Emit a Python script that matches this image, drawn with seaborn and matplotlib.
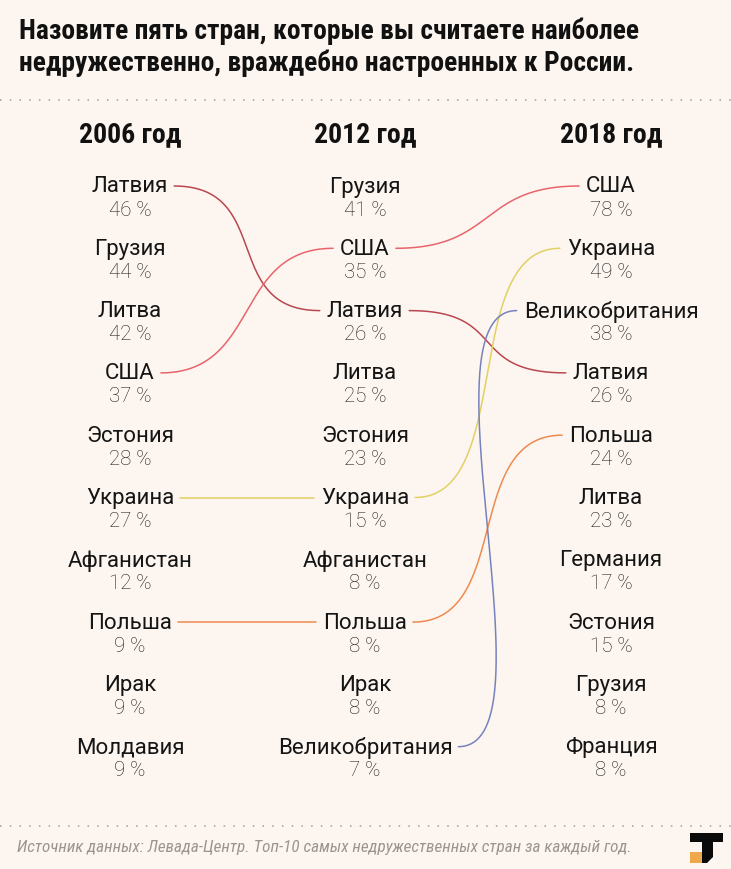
import numpy as np
import pandas as pd
import matplotlib
matplotlib.use("Agg")
import matplotlib.pyplot as plt
from matplotlib.patches import Polygon
import seaborn as sns

# ---------------- data ----------------
title_lines = ["Назовите пять стран, которые вы считаете наиболее",
               "недружественно, враждебно настроенных к России."]
years = ["2006 год", "2012 год", "2018 год"]
countries_2006 = ["Латвия", "Грузия", "Литва", "США", "Эстония", "Украина",
                  "Афганистан", "Польша", "Ирак", "Молдавия"]
values_2006 = [46, 44, 42, 37, 28, 27, 12, 9, 9, 9]
countries_2012 = ["Грузия", "США", "Латвия", "Литва", "Эстония", "Украина",
                  "Афганистан", "Польша", "Ирак", "Великобритания"]
values_2012 = [41, 35, 26, 25, 23, 15, 8, 8, 8, 7]
countries_2018 = ["США", "Украина", "Великобритания", "Латвия", "Польша", "Литва",
                  "Германия", "Эстония", "Грузия", "Франция"]
values_2018 = [78, 49, 38, 26, 24, 23, 17, 15, 8, 8]
link_colors = {"Латвия": "#b9474f", "США": "#e9646c", "Украина": "#e2d064",
               "Польша": "#ef8a4f", "Великобритания": "#7682bd"}
source_note = "Источник данных: Левада-Центр. Топ-10 самых недружественных стран за каждый год."

columns = [(countries_2006, values_2006), (countries_2012, values_2012), (countries_2018, values_2018)]

# ---------------- style ----------------
BG = "#fdf6f0"
sns.set_theme(style="white", rc={"figure.facecolor": BG, "axes.facecolor": BG})
plt.rcParams["font.family"] = ["Roboto", "DejaVu Sans"]
COND = ["Roboto Condensed", "Roboto", "DejaVu Sans"]

W, H = 731, 870
fig = plt.figure(figsize=(W / 100, H / 100), dpi=100)
ax = fig.add_axes([0, 0, 1, 1])
ax.set_xlim(0, W)
ax.set_ylim(H, 0)
ax.axis("off")

# title
for i, line in enumerate(title_lines):
    ax.text(19, 31 + i * 32, line, fontsize=19.8, fontweight="bold", color="#111111",
            ha="left", va="center", family=COND)

# dotted separators
ax.plot([0, W], [101, 101], color="#b5b0ab", lw=1.4, ls=(0, (0.8, 4.2)), solid_capstyle="round")
ax.plot([0, W], [827, 827], color="#b5b0ab", lw=1.4, ls=(0, (0.8, 4.2)), solid_capstyle="round")

col_x = [130, 365, 611]
row_y0, row_dy = 187, 62.3

for cx, yr in zip(col_x, years):
    ax.text(cx, 135, yr, fontsize=20, fontweight="bold", color="#111111",
            ha="center", va="center", family=COND)

name_texts = []
for ci, (names, vals) in enumerate(columns):
    col = {}
    for ri, (n, v) in enumerate(zip(names, vals)):
        y = row_y0 + ri * row_dy
        t = ax.text(col_x[ci], y, n, fontsize=16, color="#151515", ha="center", va="center")
        ax.text(col_x[ci], y + 23, f"{v} %", fontsize=14.8, fontweight="light",
                color="#1c1c1c", ha="center", va="center")
        col[n] = (t, y)
    name_texts.append(col)

fig.canvas.draw()
renderer = fig.canvas.get_renderer()
inv = ax.transData.inverted()


def x_extent(t):
    bb = t.get_window_extent(renderer)
    (x0, _), (x1, _) = inv.transform([[bb.x0, bb.y0], [bb.x1, bb.y1]])
    return min(x0, x1), max(x0, x1)


# build connector curves
rows = []
tt = np.linspace(0, 1, 160)
K = 100
for ci in range(2):
    src, dst = name_texts[ci], name_texts[ci + 1]
    for country in link_colors:
        if country in src and country in dst:
            ts, ys = src[country]
            td, yd = dst[country]
            x0 = x_extent(ts)[1] + 6
            x1 = x_extent(td)[0] - 7
            if abs(ys - yd) < 1:
                px = np.array([x0, x1]); py = np.array([ys, yd])
            else:
                P0 = np.array([x0, ys]); P3 = np.array([x1, yd])
                C1 = np.array([x0 + K, ys]); C2 = np.array([x1 - K, yd])
                b = ((1 - tt) ** 3)[:, None] * P0 + (3 * (1 - tt) ** 2 * tt)[:, None] * C1 \
                    + (3 * (1 - tt) * tt ** 2)[:, None] * C2 + (tt ** 3)[:, None] * P3
                px, py = b[:, 0], b[:, 1]
            for j, (a, c) in enumerate(zip(px, py)):
                rows.append({"link": f"{country}-{ci}", "country": country, "x": a, "y": c, "i": j})

df = pd.DataFrame(rows)
for link, g in df.groupby("link", sort=False):
    sns.lineplot(data=g, x="x", y="y", sort=False, estimator=None, ax=ax,
                 color=link_colors[g["country"].iloc[0]], lw=1.1, legend=False)
ax.set_xlim(0, W)
ax.set_ylim(H, 0)
ax.axis("off")

# footer
ax.text(17, 848, source_note, fontsize=12.3, style="italic", color="#9a9590",
        ha="left", va="center", family=COND)

# logo
ax.add_patch(Polygon([[690, 834], [723, 834], [723, 843], [713, 843], [713, 858],
                      [707, 864], [702, 864], [702, 843], [690, 843]],
                     closed=True, facecolor="#0a0a0a", edgecolor="none"))
ax.add_patch(Polygon([[690, 853], [702, 853], [702, 864], [690, 864]],
                     closed=True, facecolor="#f0a94a", edgecolor="none"))

fig.savefig("out.png", dpi=100, facecolor=BG)
